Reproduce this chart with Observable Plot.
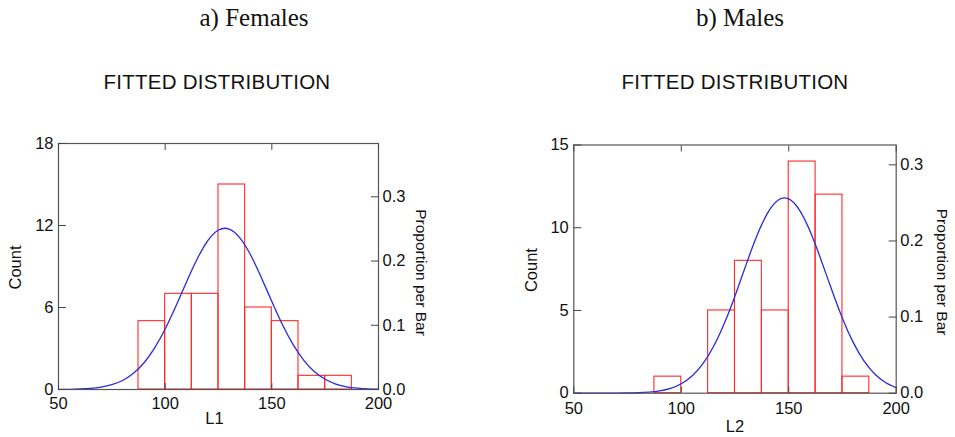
<!DOCTYPE html>
<html><head><meta charset="utf-8">
<script src="https://cdn.jsdelivr.net/npm/d3@7"></script>
<script src="https://cdn.jsdelivr.net/npm/@observablehq/plot@0.6"></script>
<style>
body{margin:0;background:#fff;}
#wrap{position:relative;width:955px;height:437px;overflow:hidden;font-family:"Liberation Sans",Arial,sans-serif;}
.panel{position:absolute;}
.t1{position:absolute;font-family:"Liberation Serif","Times New Roman",serif;font-size:25px;color:#111;transform:translateX(-50%);white-space:nowrap;line-height:1;}
.t2{position:absolute;font-family:"Liberation Sans",Arial,sans-serif;font-size:20.5px;letter-spacing:0.25px;color:#111;transform:translateX(-50%);white-space:nowrap;line-height:1;}
</style>
</head><body>
<div id="wrap">
  <div class="t1" style="left:254px;top:5px">a) Females</div>
  <div class="t1" style="left:740px;top:5px">b) Males</div>
  <div class="t2" style="left:217px;top:72px">FITTED DISTRIBUTION</div>
  <div class="t2" style="left:735px;top:72px">FITTED DISTRIBUTION</div>
</div>
<script>
// ---- data ----
const binEdges = [87.5, 100, 112.5, 125, 137.5, 150, 162.5, 175, 187.5];
const femaleCounts = [5, 7, 7, 15, 6, 5, 1, 1];
const maleCounts = [1, 0, 5, 8, 5, 14, 12, 1];
const curveX = [50,55,60,65,70,75,80,85,90,95,100,105,110,115,120,125,130,135,140,145,150,155,160,165,170,175,180,185,190,195,200];
const femaleCurve = [0.006,0.015,0.036,0.083,0.18,0.35,0.66,1.17,1.94,3.03,4.43,6.09,7.87,9.55,10.89,11.67,11.74,11.10,9.86,8.22,6.44,4.74,3.28,2.13,1.30,0.75,0.40,0.20,0.10,0.04,0.02];
const maleCurve = [0.0,0.0,0.0004,0.0014,0.004,0.011,0.027,0.064,0.14,0.29,0.57,1.04,1.77,2.82,4.21,5.88,7.71,9.45,10.85,11.66,11.74,11.07,9.77,8.07,6.25,4.52,3.07,1.95,1.16,0.65,0.34];
const xTicks = [50, 100, 150, 200];
const femaleCountTicks = [0, 6, 12, 18];
const maleCountTicks = [0, 5, 10, 15];
const propTicks = [0, 0.1, 0.2, 0.3];
const femaleN = 47, maleN = 46;

function panel(o) {
  const bars = o.counts.map((c, i) => ({x1: binEdges[i], x2: binEdges[i + 1], y: c}));
  const curve = curveX.map((x, i) => ({x, y: o.curve[i]}));
  const N = o.N;
  const fs = 16.5;
  return Plot.plot({
    width: o.width, height: o.height,
    marginLeft: o.ml, marginRight: o.mr, marginTop: o.mt, marginBottom: o.mb,
    style: {fontFamily: '"Liberation Sans", Arial, sans-serif', fontSize: fs + "px", color: "#111", background: "transparent"},
    x: {domain: [50, 200]},
    y: {domain: [0, o.ymax]},
    marks: [
      Plot.rect(bars, {x1: "x1", x2: "x2", y1: 0, y2: "y", fill: "none", stroke: "#ff2a2a", strokeWidth: 1.1}),
      Plot.line(curve, {x: "x", y: "y", stroke: "#2a2ae0", strokeWidth: 1.3, curve: "natural"}),
      Plot.frame({stroke: "#555", strokeWidth: 1.2}),
      Plot.axisX({anchor: "bottom", ticks: xTicks, tickSize: -6, tickPadding: o.xpad, fontSize: fs, stroke: "#444", label: null}),
      Plot.axisX({anchor: "top", ticks: xTicks, tickSize: -6, tickFormat: () => "", stroke: "#444", label: null}),
      Plot.axisY({anchor: "left", ticks: o.countTicks, tickSize: -8, tickPadding: 13, fontSize: fs, stroke: "#444", label: null}),
      Plot.axisY({anchor: "right", ticks: propTicks.map(p => p * N), tickFormat: d => (d / N).toFixed(1), tickSize: -8, tickPadding: 12, fontSize: fs, stroke: "#444", label: null}),
      Plot.text(["Count"], {frameAnchor: "left", rotate: -90, dx: o.countDx, dy: 1, fontSize: 16.5, textAnchor: "middle", lineAnchor: "middle"}),
      Plot.text(["Proportion per Bar"], {frameAnchor: "right", rotate: 90, dx: o.propDx, dy: o.propDy, fontSize: 15.5, textAnchor: "middle", lineAnchor: "middle"}),
      Plot.text([o.xlabel], {frameAnchor: "bottom", dy: o.xlabDy, dx: o.xlabDx, fontSize: 16.5, textAnchor: "middle", lineAnchor: "middle"})
    ]
  });
}

const wrap = document.getElementById("wrap");
const a = panel({counts: femaleCounts, curve: femaleCurve, N: femaleN, ymax: 18, countTicks: femaleCountTicks,
  width: 470, height: 317, ml: 58, mr: 92, mt: 23, mb: 48, xpad: 13.5,
  countDx: -43, propDx: 42, propDy: 6, xlabel: "L1", xlabDy: 29, xlabDx: -4});
a.classList.add("panel"); a.style.left = "0px"; a.style.top = "120px";
wrap.appendChild(a);
const b = panel({counts: maleCounts, curve: maleCurve, N: maleN, ymax: 15, countTicks: maleCountTicks,
  width: 475, height: 317, ml: 93.3, mr: 59.3, mt: 24.5, mb: 44.3, xpad: 15,
  countDx: -42, propDx: 46, propDy: 3, xlabel: "L2", xlabDy: 34, xlabDx: 0});
b.classList.add("panel"); b.style.left = "480px"; b.style.top = "120px";
wrap.appendChild(b);
</script>
</body></html>
